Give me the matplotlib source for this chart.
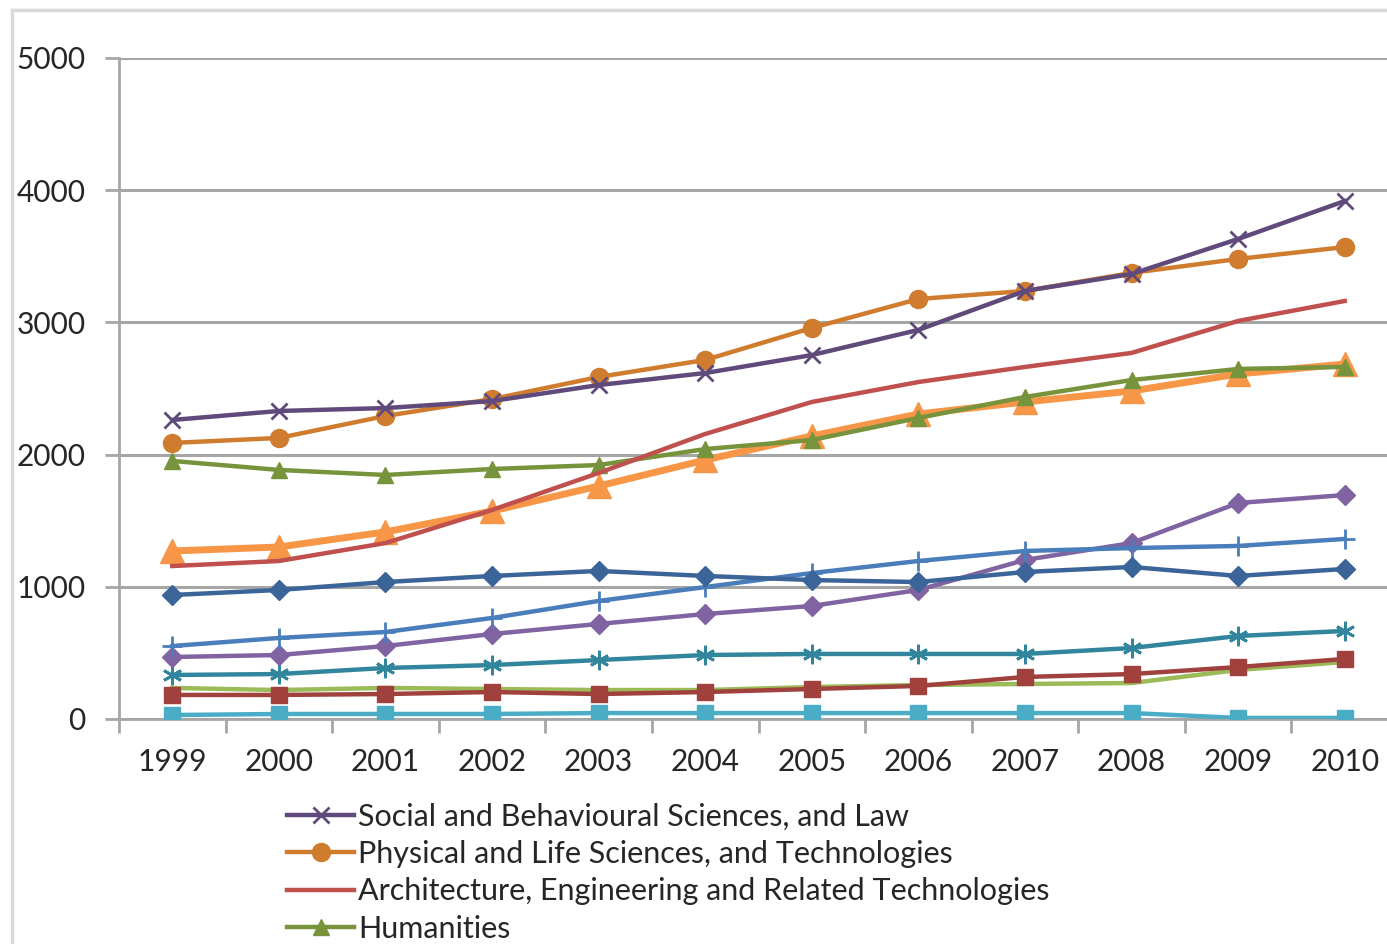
import numpy as np
import matplotlib.pyplot as plt
from matplotlib.lines import Line2D

plt.rcParams['font.family'] = ['Lato', 'DejaVu Sans']

years = list(range(1999, 2011))

social_law = [2262, 2330, 2352, 2405, 2526, 2617, 2753, 2943, 3238, 3366, 3631, 3918]
phys_life = [2088, 2126, 2292, 2420, 2587, 2716, 2958, 3177, 3238, 3374, 3480, 3570]
architecture = [1157, 1195, 1331, 1581, 1861, 2156, 2398, 2549, 2663, 2769, 3011, 3162]
humanities = [1952, 1884, 1846, 1891, 1921, 2042, 2110, 2277, 2436, 2564, 2648, 2663]
orange_tri = [1271, 1301, 1415, 1573, 1762, 1959, 2141, 2307, 2398, 2481, 2610, 2685]
blue_diamond = [938, 976, 1036, 1082, 1120, 1082, 1051, 1036, 1112, 1150, 1082, 1135]
blue_plus = [552, 613, 658, 764, 893, 998, 1104, 1195, 1271, 1293, 1309, 1362]
purple_diamond = [469, 484, 552, 643, 719, 794, 855, 976, 1203, 1331, 1634, 1694]
teal_star = [333, 340, 386, 408, 446, 484, 492, 492, 492, 537, 628, 666]
red_square = [182, 182, 189, 204, 189, 204, 227, 250, 318, 340, 393, 454]
green_line = [235, 219, 235, 227, 219, 219, 242, 257, 265, 272, 371, 431]
cyan_square = [30, 38, 38, 38, 45, 45, 45, 45, 45, 45, 8, 8]

legend_labels = ['Social and Behavioural Sciences, and Law',
                 'Physical and Life Sciences, and Technologies',
                 'Architecture, Engineering and Related Technologies',
                 'Humanities']

W, H = 1387, 944
fig = plt.figure(figsize=(W / 100, H / 100), dpi=100)

# chart area border (cropped at right/bottom)
fig.add_artist(Line2D([12 / W, 12 / W], [0, 1 - 10 / H], transform=fig.transFigure,
                      color='#D9D9D9', lw=2.5))
fig.add_artist(Line2D([12 / W, 1], [1 - 10 / H, 1 - 10 / H], transform=fig.transFigure,
                      color='#D9D9D9', lw=2.5))

left, right, top, bottom = 119, 1398, 58, 719
ax = fig.add_axes([left / W, 1 - bottom / H, (right - left) / W, (bottom - top) / H])

lw = 3.2
ax.plot(years, cyan_square, color='#4BACC6', lw=lw, marker='s', ms=12, zorder=3)
ax.plot(years, green_line, color='#9BBB59', lw=lw, zorder=3)
ax.plot(years, red_square, color='#A0413E', lw=lw, marker='s', ms=12, zorder=3)
ax.plot(years, teal_star, color='#31859C', lw=lw, marker=(6, 2, 0), ms=14, mew=2, zorder=3)
ax.plot(years, purple_diamond, color='#8064A2', lw=lw, marker='D', ms=10, zorder=3)
ax.plot(years, blue_plus, color='#4A7EBB', lw=lw, marker='+', ms=15, mew=2, zorder=3)
ax.plot(years, blue_diamond, color='#3B6498', lw=lw, marker='D', ms=10, zorder=3)
ax.plot(years, orange_tri, color='#F79646', lw=5, marker='^', ms=17, zorder=3)
ax.plot(years, humanities, color='#77933C', lw=lw, marker='^', ms=12, zorder=3)
ax.plot(years, architecture, color='#C0504D', lw=lw, zorder=3)
ax.plot(years, phys_life, color='#D07C2F', lw=lw, marker='o', ms=13, zorder=3)
ax.plot(years, social_law, color='#604A7B', lw=lw, marker='x', ms=12, mew=2, zorder=3)

ax.set_xlim(1998.5, 2010.5)
ax.set_ylim(0, 5000)
ax.set_yticks(range(0, 5001, 1000))
ax.set_xticks(np.arange(1998.5, 2011, 1))
ax.set_xticklabels([])
ax.set_xticks(years, minor=True)
ax.set_xticklabels([str(y) for y in years], minor=True)
ax.tick_params(axis='x', which='major', direction='out', length=10, width=2, color='#A6A6A6')
ax.tick_params(axis='x', which='minor', length=0, pad=21, labelsize=21.5, labelcolor='#262626')
ax.tick_params(axis='y', direction='out', length=10, width=2, color='#A6A6A6',
               labelsize=21.5, labelcolor='#262626', pad=14)
ax.grid(axis='y', color='#A6A6A6', lw=2.2, zorder=0)
for s in ['top', 'right']:
    ax.spines[s].set_visible(False)
for s in ['left', 'bottom']:
    ax.spines[s].set_color('#A6A6A6')
    ax.spines[s].set_linewidth(2)

handles = [
    Line2D([], [], color='#604A7B', lw=lw, marker='x', ms=12, mew=2),
    Line2D([], [], color='#D07C2F', lw=lw, marker='o', ms=13),
    Line2D([], [], color='#C0504D', lw=lw),
    Line2D([], [], color='#77933C', lw=lw, marker='^', ms=12),
]
fig.legend(handles, legend_labels, loc='upper left', bbox_to_anchor=(287 / W, 1 - 803 / H),
           frameon=False, fontsize=22, handlelength=2.2, handletextpad=0.12,
           labelspacing=0.3, borderpad=0, borderaxespad=0, labelcolor='#262626')

fig.savefig('out.png', dpi=100)
